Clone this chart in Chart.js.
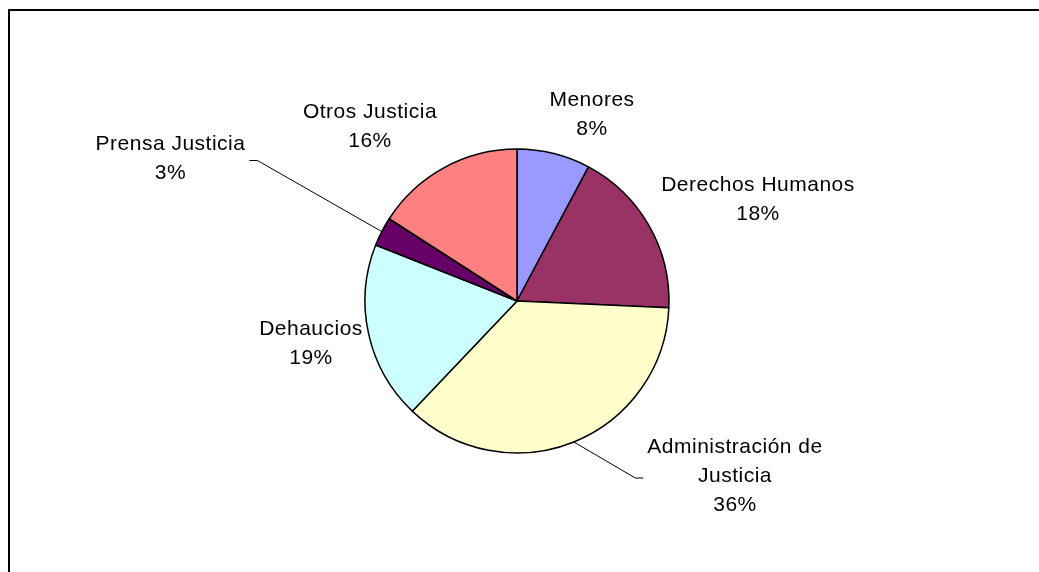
<!DOCTYPE html>
<html lang="es">
<head>
    <meta charset="UTF-8">
    <title>Distribución Justicia</title>
    <script src="https://cdn.jsdelivr.net/npm/chart.js"></script>
    <style>
        body { margin: 0; background: #fff; }
        .marco { position: absolute; left: 8px; top: 9px; width: 1100px; height: 700px;
                 border-left: 2px solid #000; border-top: 2px solid #000; }
        .grafico { position: absolute; left: 0; top: 0; width: 1039px; height: 572px; }
    </style>
</head>
<body>
    <div class="marco"></div>
    <div class="grafico">
        <canvas id="myChartCanvas" width="1039" height="572"></canvas>
    </div>
<script>
    // datos (porcentaje aproximado)
    const categorias = ['Menores', 'Derechos Humanos', ['Administración de', 'Justicia'], 'Dehaucios', 'Prensa Justicia', 'Otros Justicia'];
    const valores = [7.8, 17.9, 36.4, 18.9, 3.1, 15.9];
    const colores = ['#9999FF', '#993366', '#FFFFCC', '#CCFFFF', '#660066', '#FF8080'];

    // donde va cada etiqueta (centro x, centro y de la primera linea)
    const posEtiquetas = [[592, 100], [758, 185.5], [735, 447], [311, 329], [170.5, 144], [370, 112.5]];
    const conLinea = [false, false, true, false, true, false];

    const etiquetasPlugin = {
        id: 'etiquetas',
        afterDatasetsDraw(chart) {
            const ctx = chart.ctx;
            const meta = chart.getDatasetMeta(0);
            const total = valores.reduce((a, b) => a + b, 0);
            ctx.save();
            ctx.font = '21px "Liberation Sans", Arial, sans-serif';
            ctx.letterSpacing = '0.5px';
            ctx.fillStyle = '#000';
            ctx.textAlign = 'center';
            ctx.textBaseline = 'middle';
            const alto = 29;
            for (let i = 0; i < valores.length; i++) {
                let lineas = Array.isArray(categorias[i]) ? categorias[i].slice() : [categorias[i]];
                lineas.push(Math.round(valores[i] / total * 100) + '%');
                const [x, y] = posEtiquetas[i];
                let ancho = 0;
                lineas.forEach((t, k) => {
                    ctx.fillText(t, x, y + k * alto);
                    ancho = Math.max(ancho, ctx.measureText(t).width);
                });

                if (conLinea[i]) {
                    const arco = meta.data[i];
                    const medio = (arco.startAngle + arco.endAngle) / 2;
                    const ex = arco.x + Math.cos(medio) * arco.outerRadius;
                    const ey = arco.y + Math.sin(medio) * arco.outerRadius;
                    const my = y + (lineas.length - 1) * alto / 2 + 2;
                    const lado = x > arco.x ? -1 : 1;
                    const fin = x + lado * (ancho / 2 + 4);
                    const codo = fin + lado * 8;
                    ctx.beginPath();
                    ctx.strokeStyle = '#000';
                    ctx.lineWidth = 1;
                    ctx.moveTo(ex, ey);
                    ctx.lineTo(codo, my);
                    ctx.lineTo(fin, my);
                    ctx.stroke();
                }
            }
            ctx.restore();
        }
    };

    const dados = {
        labels: categorias,
        datasets: [{
            data: valores,
            backgroundColor: colores,
            borderColor: '#000',
            borderWidth: 1.5
        }]
    };

    const config = {
        type: 'pie',
        data: dados,
        options: {
            responsive: false,
            animation: false,
            radius: 152,
            layout: { padding: { left: 0, right: 5, top: 30, bottom: 0 } },
            plugins: { legend: { display: false }, tooltip: { enabled: false } }
        },
        plugins: [etiquetasPlugin]
    };

    let myChart = new Chart(document.getElementById('myChartCanvas'), config);
</script>
</body>
</html>
